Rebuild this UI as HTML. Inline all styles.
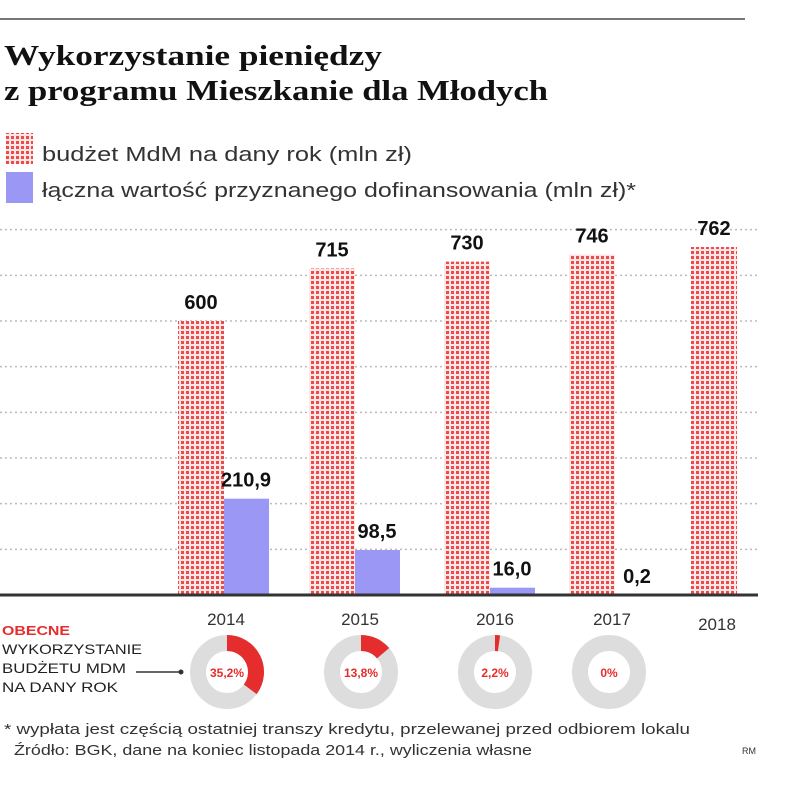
<!DOCTYPE html>
<html><head><meta charset="utf-8"><style>
body{margin:0;background:#fff;width:805px;height:808px;overflow:hidden}
svg{display:block}
.sans{font-family:"Liberation Sans","DejaVu Sans",sans-serif}
</style></head><body>
<svg id="c" width="805" height="808" xmlns="http://www.w3.org/2000/svg">
<defs>
<pattern id="dots" width="5" height="5" patternUnits="userSpaceOnUse">
<rect width="5" height="5" fill="#fde6e6"/>
<rect x="1" y="1" width="3" height="3" fill="#ee4a4a"/>
</pattern>
</defs>
<line x1="0" y1="19" x2="745" y2="19" stroke="#777" stroke-width="2"/>
<text x="4" y="65" font-family="Liberation Serif,serif" font-weight="bold" font-size="29" fill="#111" textLength="378" lengthAdjust="spacingAndGlyphs">Wykorzystanie pieniędzy</text>
<text x="4" y="100" font-family="Liberation Serif,serif" font-weight="bold" font-size="29" fill="#111" textLength="544" lengthAdjust="spacingAndGlyphs">z programu Mieszkanie dla Młodych</text>
<rect x="6" y="133" width="27" height="31" fill="url(#dots)"/>
<text x="42" y="161" class="sans" font-size="20" fill="#333" textLength="370" lengthAdjust="spacingAndGlyphs">budżet MdM na dany rok (mln zł)</text>
<rect x="6" y="172" width="27" height="31" fill="#9b98f5"/>
<text x="42" y="197" class="sans" font-size="20" fill="#333" textLength="594" lengthAdjust="spacingAndGlyphs">łączna wartość przyznanego dofinansowania (mln zł)*</text>
<g id="grid"></g>
<g id="bars"></g>
<line x1="0" y1="595" x2="758" y2="595" stroke="#333" stroke-width="3"/>
<g id="donuts"></g>
<text x="2" y="635" class="sans" font-weight="bold" font-size="13" fill="#e52d2d" textLength="68" lengthAdjust="spacingAndGlyphs">OBECNE</text>
<text x="2" y="654" class="sans" font-size="14" fill="#222" textLength="140" lengthAdjust="spacingAndGlyphs">WYKORZYSTANIE</text>
<text x="2" y="673" class="sans" font-size="14" fill="#222" textLength="124" lengthAdjust="spacingAndGlyphs">BUDŻETU MDM</text>
<text x="2" y="692" class="sans" font-size="14" fill="#222" textLength="116" lengthAdjust="spacingAndGlyphs">NA DANY ROK</text>
<line x1="136" y1="672" x2="180" y2="672" stroke="#333" stroke-width="1.5"/>
<circle cx="181" cy="672" r="2.5" fill="#333"/>
<text x="4" y="734" class="sans" font-size="15" fill="#333" textLength="686" lengthAdjust="spacingAndGlyphs">* wypłata jest częścią ostatniej transzy kredytu, przelewanej przed odbiorem lokalu</text>
<text x="14" y="755" class="sans" font-size="15" fill="#333" textLength="518" lengthAdjust="spacingAndGlyphs">Źródło: BGK, dane na koniec listopada 2014 r., wyliczenia własne</text>
<text x="742" y="754" class="sans" font-size="9" fill="#333">RM</text>
</svg>
<script>
const years=["2014","2015","2016","2017","2018"];
const budget=[600,715,730,746,762];
const funding=[210.9,98.5,16.0,0.2,null];
const fundingLabels=["210,9","98,5","16,0","0,2",""];
const usage=[35.2,13.8,2.2,0];
const usageLabels=["35,2%","13,8%","2,2%","0%"];
const gridTicks=[100,200,300,400,500,600,700,800];
const NS="http://www.w3.org/2000/svg";
const base=595, k=274/600;
function y(v){return base-v*k;}
function xRed(i){return [178,309,444,569,691][i];}
const yearX=[226,360,495,612,717];
const donutX=[227,361,495,609];
function mk(t,a,p){const e=document.createElementNS(NS,t);for(const q in a)e.setAttribute(q,a[q]);p.appendChild(e);return e;}
const g=document.getElementById('grid');
gridTicks.forEach(v=>{const l=mk('line',{x1:0,x2:758,y1:y(v),y2:y(v),stroke:'#bbb','stroke-width':1.5,'stroke-dasharray':'2 3'},g);

});
const b=document.getElementById('bars');
years.forEach((yr,i)=>{
 const x=xRed(i);
 const r=mk('rect',{x:x,y:y(budget[i]),width:46,height:base-y(budget[i]),fill:'url(#dots)'},b);
 
 
 const t=mk('text',{x:x+23,y:y(budget[i])-12,'text-anchor':'middle','font-size':20,'font-weight':'bold',fill:'#111',class:'sans'},b);t.textContent=budget[i];
 
 
 if(funding[i]!==null){
  const h=Math.max(base-y(funding[i]),0);
  const p=mk('rect',{x:x+46,y:base-h,width:45,height:h,fill:'#9b98f5'},b);
  
  
  const ft=mk('text',{x:x+68,y:y(funding[i])-12,'text-anchor':'middle','font-size':20,'font-weight':'bold',fill:'#111',class:'sans'},b);ft.textContent=fundingLabels[i];
  
  
 }
 const yl=mk('text',{x:yearX[i],y:i==4?630:625,'text-anchor':'middle','font-size':17,fill:'#333',class:'sans'},b);yl.textContent=yr;
 
 
});
const d=document.getElementById('donuts');
const R=29,W=16,cy=672;
usage.forEach((u,i)=>{
 const cx=donutX[i];
 const c=mk('circle',{cx:cx,cy:cy,r:R,fill:'none',stroke:'#ddd','stroke-width':W},d);
 
 
 if(u>0){
  const a=Math.max(u/100,0.006)*2*Math.PI;
  const x2=cx+R*Math.sin(a),y2=cy-R*Math.cos(a);
  const arc=mk('path',{d:`M${cx} ${cy-R} A${R} ${R} 0 ${a>Math.PI?1:0} 1 ${x2} ${y2}`,fill:'none',stroke:'#e52d2d','stroke-width':W},d);
  
  
 }
 const t=mk('text',{x:cx,y:cy+5,'text-anchor':'middle','font-size':12,'font-weight':'bold',fill:'#e52d2d',class:'sans'},d);t.textContent=usageLabels[i];
 
 
});
</script>
</body></html>
